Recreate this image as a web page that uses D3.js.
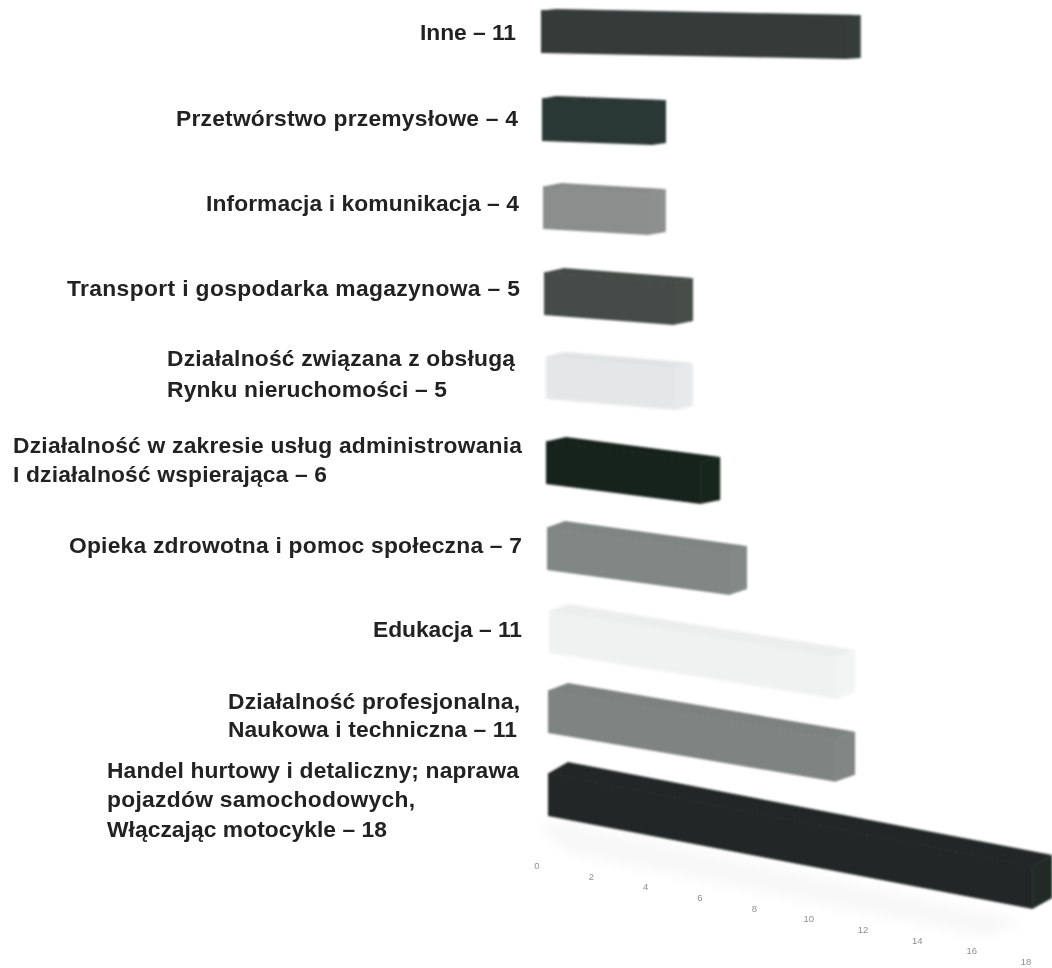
<!DOCTYPE html>
<html><head><meta charset="utf-8">
<script src="https://d3js.org/d3.v7.min.js"></script>
<style>html,body{margin:0;background:#fff}svg{display:block}text{font-family:"Liberation Sans",Arial,sans-serif}</style>
</head><body><svg id="c" width="1052" height="968"></svg>
<script>
const labelLines = [
  ["Inne – 11"],
  ["Przetwórstwo przemysłowe – 4"],
  ["Informacja i komunikacja – 4"],
  ["Transport i gospodarka magazynowa – 5"],
  ["Działalność związana z obsługą","Rynku nieruchomości – 5"],
  ["Działalność w zakresie usług administrowania","I działalność wspierająca – 6"],
  ["Opieka zdrowotna i pomoc społeczna – 7"],
  ["Edukacja – 11"],
  ["Działalność profesjonalna,","Naukowa i techniczna – 11"],
  ["Handel hurtowy i detaliczny; naprawa","pojazdów samochodowych,","Włączając motocykle – 18"]
];
const values = [11,4,4,5,5,6,7,11,11,18];
const shades = ["#343b39","#2b3734","#8b8e8d","#454c48","#e4e6e7","#18241f","#808785","#f0f1f1","#7f8482","#222826"];
const ticks = [0,2,4,6,8,10,12,14,16,18];

// layout of the perspective: per-row geometry
const rows = d3.range(values.length);
const leftX  = d3.scaleLinear().domain(rows).range([541,542,543,544,546,546,547,549,548,548]);
const topY   = d3.scaleLinear().domain(rows).range([10,98,186,272,356,441,527,610,690,773]);
const slope  = d3.scaleLinear().domain(rows).range([.02,.037,.058,.078,.085,.13,.137,.16,.17,.192]);
const depthX = d3.scaleLinear().domain(rows).range([15,14,18,20,18,20,18,19,20,20]);
const depthY = d3.scaleLinear().domain(rows).range([1,2,3,4,4,4,6,6,7,11]);
const unitW  = d3.scaleLinear().domain(rows).range([27.7,27.5,26.2,25.8,25.8,25.7,26,26.1,26.1,26.9]);
const barH = 43;

const svg = d3.select("#c");
const defs = svg.append("defs");
defs.append("filter").attr("id","soft").append("feGaussianBlur").attr("stdDeviation",.8);
defs.append("filter").attr("id","softer").attr("x","-10%").attr("y","-30%").attr("width","120%").attr("height","160%").append("feGaussianBlur").attr("stdDeviation",1.6);
defs.append("filter").attr("id","floor").attr("x","-10%").attr("y","-30%").attr("width","120%").attr("height","160%").append("feGaussianBlur").attr("stdDeviation",6);
defs.append("filter").attr("id","txt").attr("x","-2%").attr("y","-20%").attr("width","104%").attr("height","140%").append("feGaussianBlur").attr("stdDeviation",.4);

const line = d3.line();
// faint floor below the lowest bar
const tickX = d3.scaleLinear().domain([0,18]).range([537,1026]);
const tickY = d3.scaleLinear().domain([0,18]).range([869,965]);
svg.append("path")
  .attr("d", line([[tickX(0),tickY(0)-42],[tickX(0)+20,tickY(0)-48],[tickX(18),tickY(18)-45],[tickX(18)-40,tickY(18)-28],[tickX(0)+35,tickY(0)-14]])+"Z")
  .attr("fill","#f8f8f8").attr("filter","url(#floor)");

const g = svg.append("g").selectAll("g").data(rows).join("g")
  .attr("filter", i => shades[i] > "#d" ? "url(#softer)" : "url(#soft)");
const corners = i => {
  const x0 = leftX(i), y0 = topY(i), s = slope(i), w = values[i]*unitW(i), dx = depthX(i), dy = depthY(i);
  const xr = x0 + w, yr = y0 + w*s;
  return {x0,y0,xr,yr,dx,dy};
};
g.append("path").attr("fill", i => shades[i]).attr("d", i => { const c = corners(i);
  return line([[c.x0,c.y0],[c.xr+.5,c.yr],[c.xr+.5,c.yr+barH],[c.x0,c.y0+barH]])+"Z"; });
g.append("path").attr("fill", i => d3.color(shades[i]).darker(.05)).attr("d", i => { const c = corners(i);
  return line([[c.x0,c.y0+.5],[c.x0+c.dx,c.y0-c.dy],[c.xr+c.dx,c.yr-c.dy],[c.xr,c.yr+.5]])+"Z"; });
g.append("path").attr("fill", i => d3.color(shades[i]).brighter(.04)).attr("d", i => { const c = corners(i);
  return line([[c.xr,c.yr],[c.xr+c.dx,c.yr-c.dy],[c.xr+c.dx,c.yr-c.dy+barH],[c.xr,c.yr+barH]])+"Z"; });

// value ticks
svg.append("g").attr("filter","url(#txt)").selectAll("text").data(ticks).join("text")
  .attr("x", tickX).attr("y", tickY)
  .attr("text-anchor","middle").attr("font-size",9.5).attr("fill","#8f8f8f").text(d => d);

// category labels
const labelStartX = [[420],[176],[206],[67],[167,167],[13,13],[69],[373],[228,228],[107,107,107]];
const labelEndX = [[516],[518],[519],[520],[515,447],[522,327],[522],[522],[520,517],[519,415,387]];
const labelBase = [[40],[126],[211],[296],[366,397],[453,482],[553],[637],[709,737],[778,807,837]];
const lab = svg.append("g").attr("filter","url(#txt)");
rows.forEach(i => labelLines[i].forEach((t,j) => {
  lab.append("text").attr("x",labelStartX[i][j]).attr("y",labelBase[i][j])
    .attr("textLength",labelEndX[i][j]-labelStartX[i][j]).attr("lengthAdjust","spacing")
    .attr("font-size",22.8).attr("font-weight","bold").attr("fill","#222").text(t);
}));
</script></body></html>
